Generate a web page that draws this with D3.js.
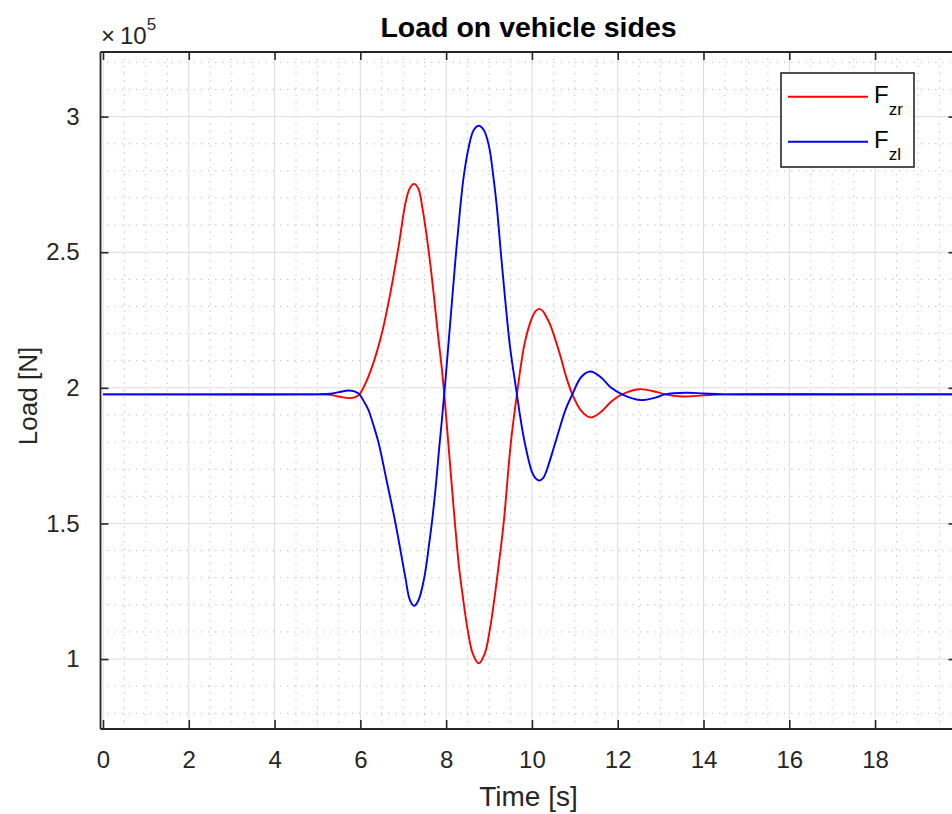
<!DOCTYPE html>
<html>
<head>
<meta charset="utf-8">
<script src="https://cdn.jsdelivr.net/npm/d3@7"></script>
<style>
	body { margin: 0; background: #fff; }
	svg { display: block; font-family: "Liberation Sans", Arial, Helvetica, sans-serif; }
</style>
</head>
<body>
<div id="plot"></div>
<script>
/* Load on vehicle sides, values in units of 1e5 N */

const yExponent = 5

const timeRight = [0, 5.0, 5.3, 5.5, 5.75, 5.95, 6.1, 6.3, 6.5, 6.7, 6.9, 7.05, 7.15, 7.25, 7.35, 7.45, 7.58, 7.7, 7.8, 7.9, 7.97, 8.1, 8.2, 8.3, 8.41, 8.51, 8.62, 8.76, 8.9, 9.01, 9.11, 9.22, 9.34, 9.51, 9.65, 9.83, 10.0, 10.08, 10.17, 10.26, 10.34, 10.42, 10.5, 10.65, 10.8, 10.94, 11.15, 11.36, 11.6, 11.85, 12.1, 12.5, 12.9, 13.1, 13.5, 14.0, 14.5, 20]
const loadRight = [1.976, 1.976, 1.974, 1.968, 1.962, 1.972, 2.01, 2.09, 2.20, 2.35, 2.53, 2.68, 2.735, 2.752, 2.735, 2.66, 2.52, 2.36, 2.21, 2.07, 1.95, 1.70, 1.51, 1.34, 1.205, 1.10, 1.02, 0.984, 1.02, 1.10, 1.205, 1.34, 1.50, 1.80, 1.976, 2.164, 2.258, 2.282, 2.291, 2.282, 2.26, 2.235, 2.20, 2.125, 2.04, 1.977, 1.915, 1.891, 1.91, 1.95, 1.976, 1.995, 1.985, 1.976, 1.968, 1.972, 1.976, 1.976]

const timeLeft = [0, 5.0, 5.3, 5.5, 5.75, 5.95, 6.1, 6.19, 6.3, 6.42, 6.61, 6.82, 7.05, 7.15, 7.25, 7.35, 7.49, 7.6, 7.68, 7.76, 7.83, 7.9, 7.99, 8.1, 8.21, 8.32, 8.41, 8.53, 8.64, 8.76, 8.88, 9.0, 9.1, 9.18, 9.28, 9.38, 9.49, 9.65, 9.73, 9.83, 10.0, 10.08, 10.17, 10.26, 10.33, 10.55, 10.78, 10.94, 11.15, 11.36, 11.6, 11.85, 12.1, 12.52, 12.9, 13.1, 13.6, 14.0, 14.5, 20]
const loadLeft = [1.976, 1.976, 1.978, 1.984, 1.99, 1.98, 1.945, 1.918, 1.865, 1.80, 1.66, 1.50, 1.30, 1.22, 1.196, 1.215, 1.30, 1.42, 1.52, 1.64, 1.765, 1.88, 2.04, 2.25, 2.46, 2.65, 2.78, 2.89, 2.95, 2.966, 2.95, 2.89, 2.78, 2.67, 2.49, 2.32, 2.15, 1.976, 1.89, 1.80, 1.69, 1.667, 1.658, 1.667, 1.69, 1.80, 1.918, 1.975, 2.04, 2.060, 2.04, 2.0, 1.976, 1.955, 1.965, 1.976, 1.982, 1.979, 1.976, 1.976]

const xTicks = [0, 2, 4, 6, 8, 10, 12, 14, 16, 18]
const yTicks = [1, 1.5, 2, 2.5, 3]
const legendNames = [["F", "zr"], ["F", "zl"]]
const colors = ["#ff0000", "#0000ff"]

const width = 952, height = 814
const margin = {top: 51.5, left: 100, right: 957, bottom: 728.5}
const axisColor = "#262626"

let x = d3.scaleLinear().domain([-0.07, 19.91]).range([margin.left, margin.right])
let y = d3.scaleLinear().domain([0.744, 3.24]).range([margin.bottom, margin.top])

let svg = d3.select("#plot").append("svg")
	.attr("width", width)
	.attr("height", height)

svg.append("defs").append("clipPath").attr("id", "clip")
	.append("rect")
	.attr("x", margin.left).attr("y", margin.top)
	.attr("width", margin.right - margin.left)
	.attr("height", margin.bottom - margin.top)

// minor grid
let xMinor = d3.range(0, 20.01, 0.5).filter(d => d % 2 !== 0)
let yMinor = d3.range(8, 33).map(d => d / 10).filter(d => Math.round(d * 10) % 5 !== 0)

let grid = svg.append("g").attr("clip-path", "url(#clip)")

grid.selectAll(".xminor").data(xMinor).join("line")
	.attr("x1", d => x(d)).attr("x2", d => x(d))
	.attr("y1", margin.top).attr("y2", margin.bottom)
	.attr("stroke", "#b8b8b8").attr("stroke-dasharray", "1.2 6")

grid.selectAll(".yminor").data(yMinor).join("line")
	.attr("y1", d => y(d)).attr("y2", d => y(d))
	.attr("x1", margin.left).attr("x2", margin.right)
	.attr("stroke", "#b8b8b8").attr("stroke-dasharray", "1.2 6")

grid.selectAll(".xmajor").data(xTicks).join("line")
	.attr("x1", d => x(d)).attr("x2", d => x(d))
	.attr("y1", margin.top).attr("y2", margin.bottom)
	.attr("stroke", "#dcdcdc")

grid.selectAll(".ymajor").data(yTicks).join("line")
	.attr("y1", d => y(d)).attr("y2", d => y(d))
	.attr("x1", margin.left).attr("x2", margin.right)
	.attr("stroke", "#dcdcdc")

// curves
let line = d3.line()
	.x(d => x(d[0]))
	.y(d => y(d[1]))
	.curve(d3.curveCatmullRom.alpha(0.5))

let series = [
	d3.zip(timeRight, loadRight),
	d3.zip(timeLeft, loadLeft)
]

grid.selectAll(".curve").data(series).join("path")
	.attr("fill", "none")
	.attr("stroke", (d, i) => colors[i])
	.attr("stroke-width", 1.9)
	.attr("stroke-linejoin", "round")
	.attr("d", line)

// axes (box with inward ticks)
let tick = 8.5
let axes = svg.append("g").attr("color", axisColor)

axes.append("g")
	.attr("transform", `translate(0,${margin.bottom})`)
	.call(d3.axisBottom(x).tickValues(xTicks).tickSize(-tick).tickPadding(tick + 14).tickSizeOuter(0))
axes.append("g")
	.attr("transform", `translate(0,${margin.top})`)
	.call(d3.axisTop(x).tickValues(xTicks).tickSize(-tick).tickFormat("").tickSizeOuter(0))
axes.append("g")
	.attr("transform", `translate(${margin.left},0)`)
	.call(d3.axisLeft(y).tickValues(yTicks).tickSize(-tick).tickPadding(tick + 12).tickSizeOuter(0).tickFormat(d3.format("~g")))
axes.append("g")
	.attr("transform", `translate(${margin.right},0)`)
	.call(d3.axisRight(y).tickValues(yTicks).tickSize(-tick).tickFormat("").tickSizeOuter(0))

axes.selectAll(".domain").attr("stroke-width", 1.8)
axes.selectAll(".tick line").attr("stroke-width", 1.6)
axes.selectAll(".tick text")
	.attr("font-size", 24)
	.attr("font-family", "'Liberation Sans', Arial, sans-serif")
	.attr("fill", axisColor)

// exponent label
let expo = svg.append("text")
	.attr("x", 101).attr("y", 44)
	.attr("fill", axisColor)
	.attr("font-size", 24)
expo.append("tspan").text("\u00d7")
expo.append("tspan").attr("dx", 5).text("10")
expo.append("tspan").attr("dy", -14).attr("font-size", 17).text(yExponent)

// title and labels
svg.append("text")
	.attr("x", (margin.left + margin.right) / 2)
	.attr("y", 37)
	.attr("text-anchor", "middle")
	.attr("font-size", 28.5)
	.attr("font-weight", "bold")
	.attr("fill", "#000")
	.text("Load on vehicle sides")

svg.append("text")
	.attr("x", (margin.left + margin.right) / 2)
	.attr("y", 806)
	.attr("text-anchor", "middle")
	.attr("font-size", 28)
	.attr("fill", axisColor)
	.text("Time [s]")

svg.append("text")
	.attr("transform", `translate(37,${(margin.top + margin.bottom) / 2 + 6}) rotate(-90)`)
	.attr("text-anchor", "middle")
	.attr("font-size", 26)
	.attr("fill", axisColor)
	.text("Load [N]")

// legend
let legend = svg.append("g")

legend.append("rect")
	.attr("x", 781).attr("y", 73)
	.attr("width", 133).attr("height", 94)
	.attr("fill", "#fff")
	.attr("stroke", axisColor)
	.attr("stroke-width", 1.6)

legendNames.forEach((name, i) => {
	let ly = 96.7 + i * 45
	legend.append("line")
		.attr("x1", 788).attr("x2", 868)
		.attr("y1", ly).attr("y2", ly)
		.attr("stroke", colors[i])
		.attr("stroke-width", 1.9)
	let t = legend.append("text")
		.attr("x", 874).attr("y", ly + 6.5)
		.attr("font-size", 24)
		.attr("fill", "#000")
	t.append("tspan").text(name[0])
	t.append("tspan").attr("dy", 12).attr("font-size", 17).text(name[1])
})
</script>
</body>
</html>
